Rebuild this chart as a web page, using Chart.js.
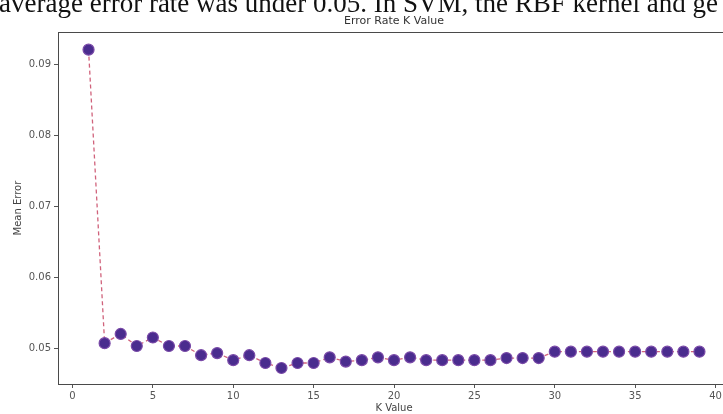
<!DOCTYPE html>
<html>
<head>
<meta charset="utf-8">
<script src="https://cdn.jsdelivr.net/npm/chart.js@4/dist/chart.umd.min.js"></script>
<style>
  html, body { margin: 0; padding: 0; background: #fff; overflow: hidden; width: 723px; height: 414px; }
  #wrap { position: relative; width: 723px; height: 414px; overflow: hidden; }
  #c { position: absolute; left: 0; top: 0; }
  #para { position: absolute; left: -1px; top: -10px; white-space: nowrap; font-family: "Liberation Serif", "DejaVu Serif", serif; font-size: 27px; line-height: 27px; color: #111; }
</style>
</head>
<body>
<div id="wrap">
  <canvas id="c" width="740" height="414"></canvas>
  <div id="para">average error rate was under 0.05. In SVM, the RBF kernel and ge</div>
</div>
<script>
const kValues = [1,2,3,4,5,6,7,8,9,10,11,12,13,14,15,16,17,18,19,20,21,22,23,24,25,26,27,28,29,30,31,32,33,34,35,36,37,38,39];
const meanError = [0.0921, 0.0507, 0.0520, 0.0503, 0.0515, 0.0503, 0.0503, 0.0490, 0.0493, 0.0483,
                   0.0490, 0.0479, 0.0472, 0.0479, 0.0479, 0.0487, 0.0481, 0.0483, 0.0487, 0.0483,
                   0.0487, 0.0483, 0.0483, 0.0483, 0.0483, 0.0483, 0.0486, 0.0486, 0.0486, 0.0495,
                   0.0495, 0.0495, 0.0495, 0.0495, 0.0495, 0.0495, 0.0495, 0.0495, 0.0495];
const xTicks = [0, 5, 10, 15, 20, 25, 30, 35, 40];
const yTicks = [0.05, 0.06, 0.07, 0.08, 0.09];

const points = kValues.map((k, i) => ({ x: k, y: meanError[i] }));

const framePlugin = {
  id: 'frame',
  afterDatasetsDraw(chart) {
    const { ctx, chartArea: a } = chart;
    ctx.save();
    ctx.strokeStyle = '#4a4a4a';
    ctx.lineWidth = 1;
    ctx.strokeRect(Math.round(a.left) + 0.5, Math.round(a.top) + 0.5, Math.round(a.right - a.left), Math.round(a.bottom - a.top));
    ctx.restore();
  }
};

new Chart(document.getElementById('c'), {
  type: 'line',
  data: {
    datasets: [{
      data: points,
      borderColor: 'rgba(200,70,100,0.85)',
      borderWidth: 1.3,
      borderDash: [4, 3],
      pointRadius: 5.5,
      pointHoverRadius: 5.5,
      pointBackgroundColor: '#4a2c8e',
      pointBorderColor: '#7a4aa8',
      pointBorderWidth: 1.2,
      tension: 0
    }]
  },
  options: {
    responsive: false,
    animation: false,
    events: [],
    layout: { padding: { left: 0, right: 10, top: 0, bottom: 0 } },
    plugins: {
      legend: { display: false },
      tooltip: { enabled: false },
      title: {
        display: true,
        text: 'Error Rate K Value',
        fullSize: false,
        color: '#333',
        font: { family: 'DejaVu Sans', size: 11, weight: 'normal' },
        padding: { top: 15, bottom: 4 }
      }
    },
    scales: {
      x: {
        type: 'linear',
        min: -0.9,
        max: 40.9,
        afterFit(s) { s.height = 30; },
        afterBuildTicks(s) { s.ticks = xTicks.map(v => ({ value: v })); },
        border: { display: false },
        grid: { display: true, drawOnChartArea: false, drawTicks: true, tickLength: 4, tickColor: '#555' },
        ticks: { color: '#555', padding: 2, maxRotation: 0, autoSkip: false, font: { family: 'DejaVu Sans', size: 10 } },
        title: { display: true, text: 'K Value', color: '#444', padding: { top: 0, bottom: 0 }, font: { family: 'DejaVu Sans', size: 10 } }
      },
      y: {
        type: 'linear',
        min: 0.04494,
        max: 0.09456,
        afterFit(s) { s.width = 58; },
        afterBuildTicks(s) { s.ticks = yTicks.map(v => ({ value: v })); },
        border: { display: false },
        grid: { display: true, drawOnChartArea: false, drawTicks: true, tickLength: 4, tickColor: '#555' },
        ticks: { color: '#555', padding: 3, autoSkip: false, font: { family: 'DejaVu Sans', size: 10 },
                 callback: v => v.toFixed(2) },
        title: { display: true, text: 'Mean Error', color: '#444', padding: { top: 12, bottom: 0 }, font: { family: 'DejaVu Sans', size: 10 } }
      }
    }
  },
  plugins: [framePlugin]
});
</script>
</body>
</html>
